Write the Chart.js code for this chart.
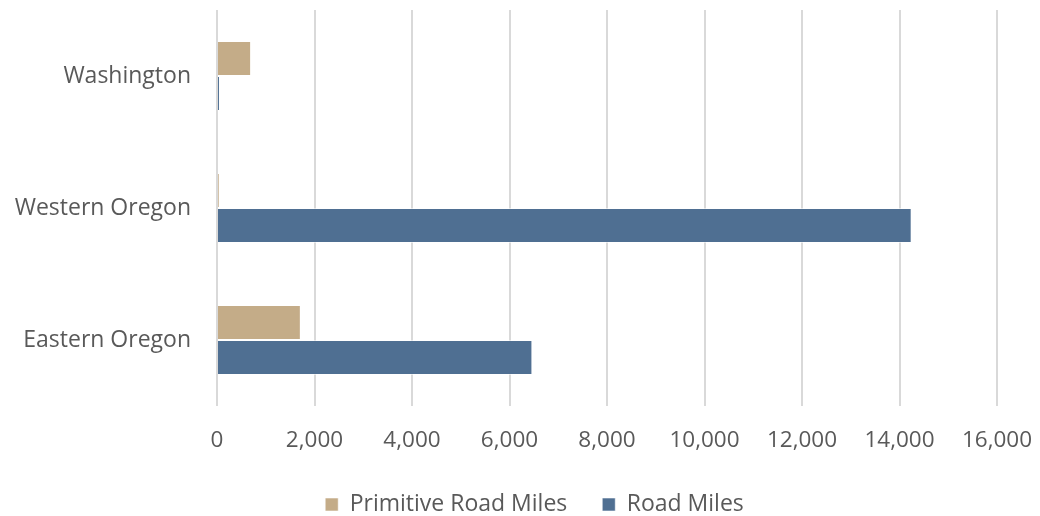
<!DOCTYPE html>
<html>
<head>
<meta charset="utf-8">
<script src="https://cdn.jsdelivr.net/npm/chart.js@4/dist/chart.umd.min.js"></script>
<style>
  html, body { margin: 0; padding: 0; background: #fff; }
  #wrap { width: 1040px; height: 516px; }
</style>
</head>
<body>
<div id="wrap"><canvas id="roadChart" width="1040" height="516"></canvas></div>
<script>
// ================= DATA =================
const regions = ["Washington", "Western Oregon", "Eastern Oregon"];
const primitiveMiles = [700, 50, 1720];
const roadMiles = [60, 14250, 6470];
const xTicks = [0, 2000, 4000, 6000, 8000, 10000, 12000, 14000, 16000];

const FONT = "'Open Sans', 'Liberation Sans', sans-serif";
const TEXT = "#595959";
const LEGEND_H = 58;
const LEGEND_SHIFT = 36;

// fixed legend height, and nudge the legend right like the original
const legendFix = {
  id: "legendFix",
  beforeLayout(chart) {
    const lg = chart.legend;
    if (lg && !lg._patched) {
      const fit = lg.fit.bind(lg);
      lg.fit = function () {
        fit();
        this.height = LEGEND_H;
      };
      lg._patched = true;
    }
  },
  afterLayout(chart) {
    const lg = chart.legend;
    if (lg) {
      lg.left += LEGEND_SHIFT;
      lg.right += LEGEND_SHIFT;
    }
  },
};

// ================= CHART =================
const ctx = document.getElementById("roadChart").getContext("2d");

new Chart(ctx, {
  type: "bar",
  data: {
    labels: regions,
    datasets: [
      {
        label: "Primitive Road Miles",
        data: primitiveMiles,
        backgroundColor: "#c4ac88",
        borderColor: "rgba(255,255,255,0.55)",
        borderWidth: 1,
      },
      {
        label: "Road Miles",
        data: roadMiles,
        backgroundColor: "#4f6f92",
        borderColor: "rgba(255,255,255,0.55)",
        borderWidth: 1,
      },
    ],
  },
  plugins: [legendFix],
  options: {
    indexAxis: "y",
    responsive: false,
    animation: false,
    categoryPercentage: 0.53,
    barPercentage: 1.0,
    layout: { padding: { top: 10, right: 43, left: 0, bottom: 0 } },
    scales: {
      x: {
        min: 0,
        max: 16000,
        afterBuildTicks: (scale) => {
          scale.ticks = xTicks.map(v => ({ value: v }));
        },
        afterFit: (scale) => {
          scale.height = 52;
          scale.paddingLeft = 0;
          scale.paddingRight = 0;
        },
        grid: { color: "#d9d9d9", lineWidth: 2, drawTicks: false },
        border: { display: false },
        ticks: {
          color: TEXT,
          font: { family: FONT, size: 22.5 },
          padding: 21,
          callback: (v) => Number(v).toLocaleString("en-US"),
        },
      },
      y: {
        afterFit: (scale) => {
          scale.width = 217;
          scale.paddingTop = 0;
          scale.paddingBottom = 0;
        },
        grid: { display: false, drawTicks: false },
        border: { display: false },
        ticks: {
          color: TEXT,
          font: { family: FONT, size: 23 },
          padding: 26,
        },
      },
    },
    plugins: {
      legend: {
        position: "bottom",
        labels: {
          color: TEXT,
          font: { family: FONT, size: 23 },
          boxWidth: 13,
          boxHeight: 13,
          padding: 35,
        },
      },
      tooltip: { enabled: false },
    },
  },
});
</script>
</body>
</html>
